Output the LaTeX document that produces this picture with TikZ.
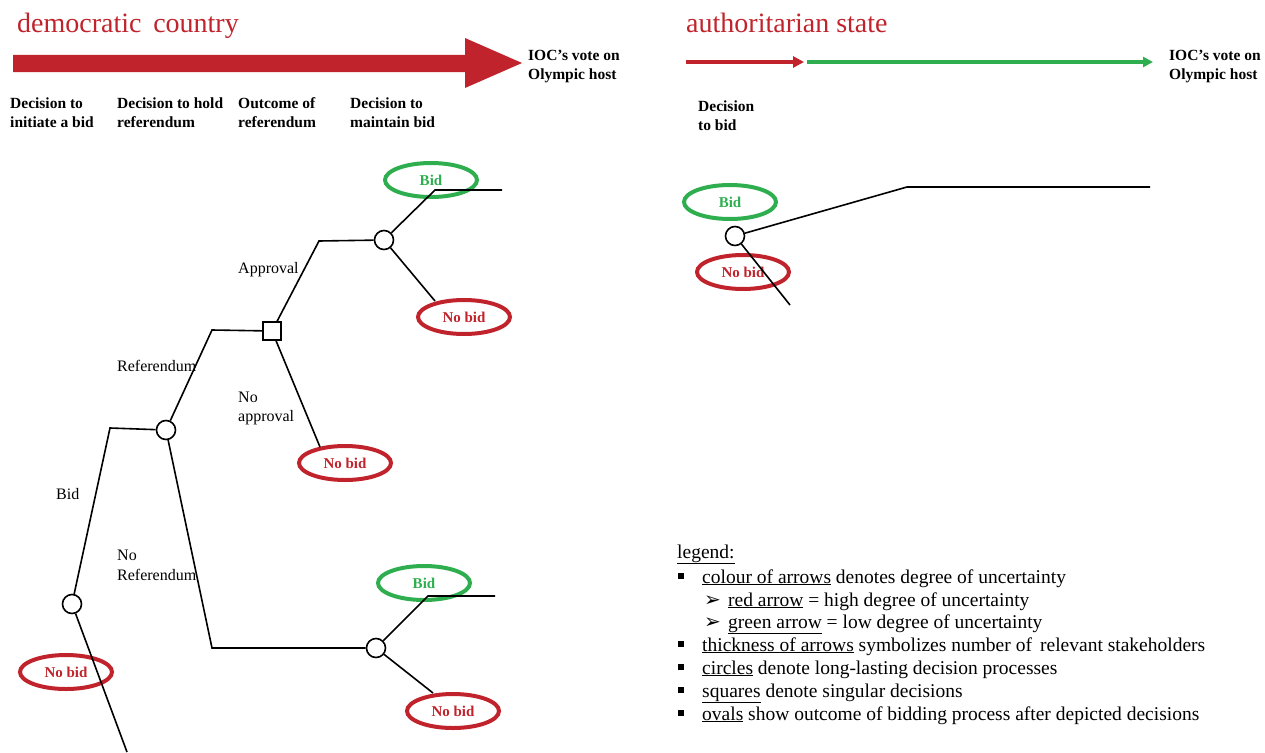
\documentclass[tikz,border=0pt]{standalone}
\usepackage{fontspec}
\setmainfont{Liberation Serif}
\newfontfamily\dejavu{DejaVu Sans}
\usetikzlibrary{arrows.meta,shapes.geometric}
\definecolor{dred}{HTML}{C0232B}
\definecolor{dgreen}{HTML}{2EAE4F}
\begin{document}
\begin{tikzpicture}[x=1pt,y=-1pt,
  title/.style={font=\fontsize{28}{31}\selectfont, text=dred, anchor=base west, inner sep=0},
  blab/.style={font=\fontsize{15.5}{19}\selectfont\bfseries, anchor=base west, inner sep=0},
  lab/.style={font=\fontsize{16}{19}\selectfont, anchor=base west, inner sep=0},
  leg/.style={font=\fontsize{19.5}{23}\selectfont, anchor=base west, inner sep=0},
  oval/.style={ellipse, line width=4pt, minimum width=92, minimum height=34, inner sep=0,
    font=\fontsize{15}{18}\selectfont\bfseries},
  goval/.style={oval, draw=dgreen, text=dgreen},
  roval/.style={oval, draw=dred, text=dred},
  dot/.style={circle, draw, line width=1.6pt, fill=white, minimum size=19, inner sep=0},
  sqr/.style={rectangle, draw, line width=1.6pt, fill=white, minimum size=18, inner sep=0},
  branch/.style={line width=1.6pt},
  bul/.style={fill=black, minimum size=5.5, inner sep=0, rectangle}]
\useasboundingbox (0,0) rectangle (1265,752);

% ---------- left header ----------
\node[title] (t1) at (17,33) {democratic\, country};
\fill[dred] (13,55) -- (465,55) -- (465,38) -- (522,63) -- (465,88) -- (465,72) -- (13,72) -- cycle;
\node[blab] (ioc1a) at (528,60) {IOC’s vote on};
\node[blab] (ioc1b) at (528,79) {Olympic host};
\node[blab] (h1a) at (10,108) {Decision to};
\node[blab] (h1b) at (10,127) {initiate a bid};
\node[blab] (h2a) at (117,108) {Decision to hold};
\node[blab] (h2b) at (117,127) {referendum};
\node[blab] (h3a) at (238,108) {Outcome of};
\node[blab] (h3b) at (238,127) {referendum};
\node[blab] (h4a) at (350,108) {Decision to};
\node[blab] (h4b) at (350,127) {maintain bid};

% ---------- right header ----------
\node[title] (t2) at (686,33) {authoritarian state};
\coordinate (ra) at (686,62);
\coordinate (rb) at (804,62);
\coordinate (ga) at (807,62);
\coordinate (gb) at (1153,62);
\draw[dred, line width=3.5pt, -{Triangle[length=11pt,width=11pt]}] (ra) -- (rb);
\draw[dgreen, line width=3pt, -{Triangle[length=10pt,width=10pt]}] (ga) -- (gb);
\node[blab] (ioc2a) at (1169,60) {IOC’s vote on};
\node[blab] (ioc2b) at (1169,79) {Olympic host};
\node[blab] (d2a) at (698,111) {Decision};
\node[blab] (d2b) at (698,130) {to bid};

% ---------- ovals ----------
\node[goval] (o1) at (431,180) {Bid};
\node[roval] (o2) at (464,317) {No bid};
\node[roval] (o3) at (345,463) {No bid};
\node[roval] (o4) at (66,672) {No bid};
\node[goval] (o5) at (424,583) {Bid};
\node[roval] (o6) at (453,711) {No bid};
\node[goval] (o7) at (730,202) {Bid};
\node[roval] (o8) at (743,272) {No bid};

% ---------- tree nodes ----------
\node[dot] (c1) at (72,604) {};
\node[dot] (c2) at (166,430) {};
\node[sqr] (sq) at (272,331) {};
\node[dot] (c3) at (384,240) {};
\node[dot] (c4) at (376,648) {};
\node[dot] (c5) at (735,236) {};

\coordinate (k0) at (127,752);
\coordinate (k1) at (110,428);
\coordinate (k2) at (212,330);
\coordinate (k3) at (212,648);
\coordinate (k4) at (319,241);
\coordinate (k5) at (320,447);
\coordinate (k6) at (435,190);
\coordinate (e1) at (502,190);
\coordinate (k7) at (435,301);
\coordinate (k8) at (428,596);
\coordinate (e2) at (495,596);
\coordinate (k9) at (433,693);
\coordinate (k10) at (907,187);
\coordinate (e3) at (1150,187);
\coordinate (k11) at (790,305);

\draw[branch] (c1) -- (k1) -- (c2);
\draw[branch] (c1) -- (k0);
\draw[branch] (c2) -- (k2) -- (sq);
\draw[branch] (c2) -- (k3) -- (c4);
\draw[branch] (sq) -- (k4) -- (c3);
\draw[branch] (sq) -- (k5);
\draw[branch] (c3) -- (k6) -- (e1);
\draw[branch] (c3) -- (k7);
\draw[branch] (c4) -- (k8) -- (e2);
\draw[branch] (c4) -- (k9);
\draw[branch] (c5) -- (k10) -- (e3);
\draw[branch] (c5) -- (k11);

% ---------- branch labels ----------
\node[lab] (lbid) at (56,499) {Bid};
\node[lab] (lref) at (117,371) {Referendum};
\node[lab] (lnr1) at (117,560) {No};
\node[lab] (lnr2) at (117,580) {Referendum};
\node[lab] (lapp) at (238,273) {Approval};
\node[lab] (lna1) at (238,402) {No};
\node[lab] (lna2) at (238,421) {approval};

% ---------- legend ----------
\node[leg] (lg0) at (677,558) {\underline{legend:}};
\node[bul] (b1) at (681,576) {};
\node[leg] (lg1) at (702,583) {\underline{colour of arrows} denotes degree of uncertainty};
\node[leg] (a1) at (704,606) {\dejavu\fontsize{20}{23}\selectfont ➢};
\node[leg] (lg2) at (728,606) {\underline{red arrow} = high degree of uncertainty};
\node[leg] (a2) at (704,628) {\dejavu\fontsize{20}{23}\selectfont ➢};
\node[leg] (lg3) at (728,628) {\underline{green arrow} = low degree of uncertainty};
\node[bul] (b2) at (681,644) {};
\node[leg] (lg4) at (702,651) {\underline{thickness of arrows} symbolizes number of\, relevant stakeholders};
\node[bul] (b3) at (681,667) {};
\node[leg] (lg5) at (702,674) {\underline{circles} denote long-lasting decision processes};
\node[bul] (b4) at (681,690) {};
\node[leg] (lg6) at (702,697) {\underline{squares} denote singular decisions};
\node[bul] (b5) at (681,713) {};
\node[leg] (lg7) at (702,720) {\underline{ovals} show outcome of bidding process after depicted decisions};
\end{tikzpicture}
\end{document}
